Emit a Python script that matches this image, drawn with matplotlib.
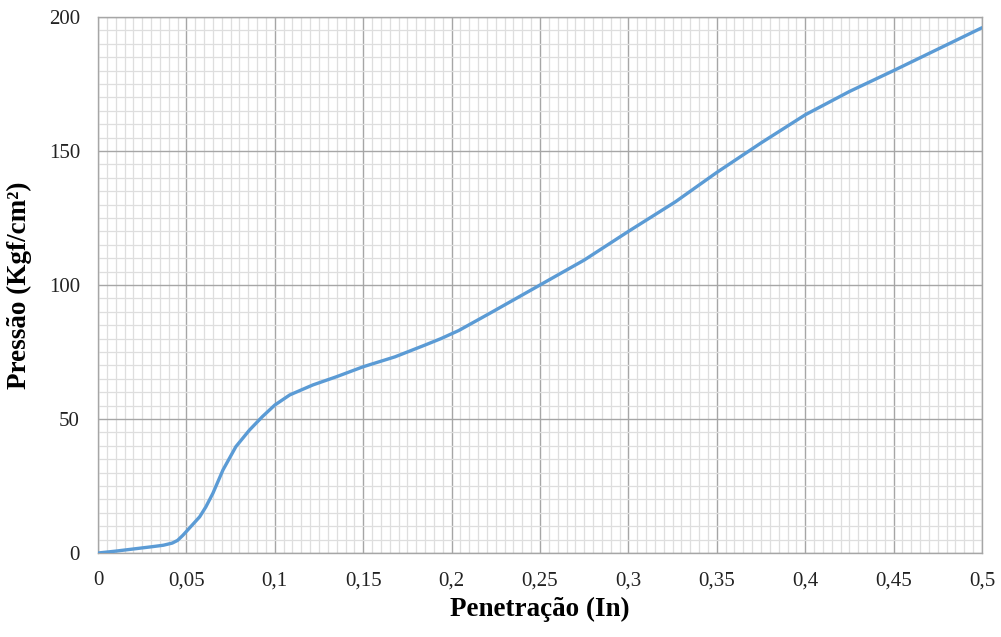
import matplotlib
matplotlib.use("Agg")
import matplotlib.pyplot as plt
from matplotlib.ticker import MultipleLocator, FuncFormatter

# Penetration (in) vs pressure (kgf/cm2)
penetracao = [0.0, 0.01, 0.02, 0.03, 0.037, 0.042, 0.045, 0.048, 0.052, 0.0575,
              0.061, 0.065, 0.0707, 0.078, 0.0857, 0.093, 0.1, 0.1085, 0.1215,
              0.135, 0.15, 0.168, 0.185, 0.194, 0.204, 0.2215, 0.25, 0.275,
              0.3, 0.3265, 0.35, 0.375, 0.4, 0.425, 0.45, 0.475, 0.5]
pressao = [0.0, 0.7, 1.5, 2.3, 2.9, 3.7, 4.7, 6.6, 9.5, 13.5,
           17.2, 22.3, 31.0, 39.7, 45.9, 50.9, 55.2, 59.0, 62.7,
           65.8, 69.5, 73.2, 77.6, 80.0, 83.0, 89.4, 100.0, 109.3,
           120.0, 131.0, 142.0, 153.0, 163.5, 172.2, 180.0, 188.0, 196.0]

plt.rcParams["font.family"] = ["Liberation Serif", "DejaVu Serif"]

fig = plt.figure(figsize=(10.01, 6.37), dpi=100)
ax = fig.add_axes([98 / 1001, 1 - 553 / 637, 884 / 1001, 536 / 637])

ax.plot(penetracao, pressao, color="#5b9bd5", linewidth=2.4,
        solid_capstyle="round", solid_joinstyle="round", zorder=3)

ax.set_xlim(0, 0.5)
ax.set_ylim(0, 200)
ax.xaxis.set_major_locator(MultipleLocator(0.05))
ax.xaxis.set_minor_locator(MultipleLocator(0.005))
ax.yaxis.set_major_locator(MultipleLocator(50))
ax.yaxis.set_minor_locator(MultipleLocator(5))


def _comma(v, _pos):
    s = f"{v:.2f}".rstrip("0").rstrip(".")
    return s.replace(".", ",")


ax.xaxis.set_major_formatter(FuncFormatter(_comma))
ax.grid(which="major", color="#a6a6a6", linewidth=1.0)
ax.grid(which="minor", color="#dedede", linewidth=0.9)
ax.set_axisbelow(True)
ax.tick_params(which="both", length=0, labelsize=15, colors="#222222")
ax.tick_params(axis="x", pad=13)
ax.tick_params(axis="y", pad=13)
for s in ax.spines.values():
    s.set_color("#a6a6a6")
    s.set_linewidth(1.0)

ax.set_xlabel("Penetração (In)", fontsize=19.5, fontweight="bold", labelpad=5)
ax.set_ylabel("Pressão (Kgf/cm²)", fontsize=19.5, fontweight="bold", labelpad=12)

fig.savefig("out.png", dpi=100)
